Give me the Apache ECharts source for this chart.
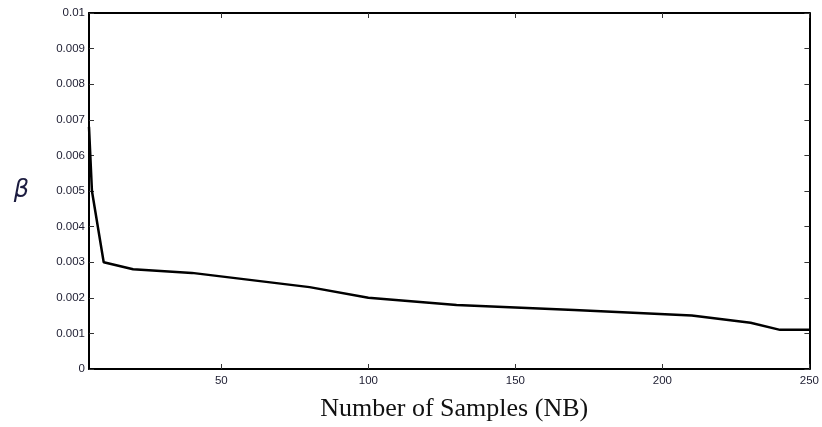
<!DOCTYPE html>
<html>
<head>
<meta charset="utf-8">
<script src="https://cdn.jsdelivr.net/npm/echarts@6/dist/echarts.min.js"></script>
<style>html,body{margin:0;padding:0;background:#fff}#c{width:822px;height:427px}</style>
</head>
<body>
<div id="c"></div>
<script>
const nbSamples = [5, 6, 10, 20, 40, 80, 100, 130, 170, 210, 230, 240, 250];
const betaValues = [0.0068, 0.0050, 0.0030, 0.0028, 0.0027, 0.0023, 0.0020, 0.0018, 0.00166, 0.0015, 0.0013, 0.0011, 0.0011];
const xTicks = [50, 100, 150, 200, 250];
const yTicks = [0, 0.001, 0.002, 0.003, 0.004, 0.005, 0.006, 0.007, 0.008, 0.009, 0.01];
const yTickLabels = ['0', '0.001', '0.002', '0.003', '0.004', '0.005', '0.006', '0.007', '0.008', '0.009', '0.01'];
const xTitle = 'Number of Samples (NB)';
const yTitle = 'β';

const chart = echarts.init(document.getElementById('c'), null, {renderer: 'canvas'});
const labelFont = {fontFamily: 'Liberation Sans, Arial, sans-serif', fontSize: 11.5, color: '#1c1c30'};
const axisLine = {show: true, onZero: false, lineStyle: {color: '#000', width: 2}};
const tick = {inside: true, length: 5, lineStyle: {color: '#333', width: 1}};

chart.setOption({
  animation: false,
  backgroundColor: '#fff',
  grid: {left: 89, right: 12, top: 13, bottom: 58, containLabel: false},
  xAxis: [{
    type: 'value', min: 5, max: 250, position: 'bottom',
    axisLine: axisLine,
    axisTick: Object.assign({customValues: xTicks}, tick),
    axisLabel: Object.assign({customValues: xTicks, margin: 6, formatter: v => String(v)}, labelFont),
    splitLine: {show: false},
    name: xTitle, nameLocation: 'middle', nameGap: 27,
    nameTextStyle: {fontFamily: 'Liberation Serif, Times New Roman, serif', fontSize: 26, color: '#111', padding: [0, 0, 0, 10]}
  }, {
    type: 'value', min: 5, max: 250, position: 'top',
    axisLine: axisLine,
    axisTick: Object.assign({customValues: xTicks}, tick),
    axisLabel: {show: false},
    splitLine: {show: false}
  }],
  yAxis: [{
    type: 'value', min: 0, max: 0.01, interval: 0.001, position: 'left',
    axisLine: axisLine,
    axisTick: tick,
    axisLabel: Object.assign({margin: 4, formatter: v => yTickLabels[yTicks.findIndex(t => Math.abs(t - v) < 1e-9)]}, labelFont),
    splitLine: {show: false},
    name: yTitle, nameLocation: 'middle', nameGap: 60, nameRotate: 0,
    nameTextStyle: {fontFamily: 'DejaVu Sans, sans-serif', fontStyle: 'italic', fontSize: 24, color: '#1c1c40', padding: [6, 0, 0, 0]}
  }, {
    type: 'value', min: 0, max: 0.01, interval: 0.001, position: 'right',
    axisLine: axisLine,
    axisTick: tick,
    axisLabel: {show: false},
    splitLine: {show: false}
  }],
  series: [{
    type: 'line',
    data: nbSamples.map((x, i) => [x, betaValues[i]]),
    showSymbol: false,
    lineStyle: {color: '#000', width: 2.5},
    clip: true
  }]
});
</script>
</body>
</html>
